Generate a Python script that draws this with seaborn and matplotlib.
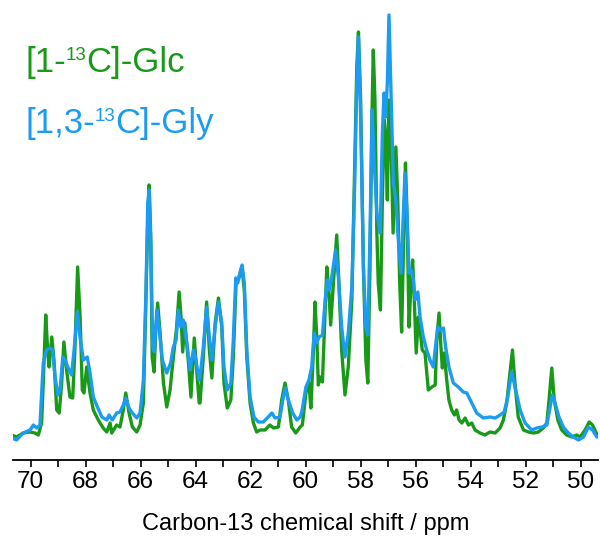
import numpy as np
import pandas as pd
import matplotlib
matplotlib.use("Agg")
import matplotlib.pyplot as plt
from matplotlib.ticker import MultipleLocator
import seaborn as sns

# Spectra: chemical shift (ppm) and intensity (a.u.)
glc_ppm = [70.69, 70.51, 70.27, 70.02, 69.84, 69.72, 69.60, 69.54, 69.45, 69.38, 69.33, 69.23, 69.15, 69.05,
           68.96, 68.87, 68.79, 68.69, 68.57, 68.47, 68.39, 68.29, 68.20, 68.12, 68.06, 67.96, 67.84, 67.72,
           67.54, 67.36, 67.23, 67.11, 67.05, 66.87, 66.75, 66.63, 66.54, 66.42, 66.30, 66.14, 66.02, 65.90,
           65.81, 65.74, 65.69, 65.63, 65.58, 65.51, 65.45, 65.38, 65.30, 65.17, 65.05, 64.93, 64.81, 64.69,
           64.60, 64.53, 64.47, 64.39, 64.26, 64.17, 64.05, 63.96, 63.87, 63.84, 63.72, 63.60, 63.50, 63.41,
           63.29, 63.17, 63.05, 62.97, 62.85, 62.72, 62.63, 62.53, 62.45, 62.32, 62.23, 62.14, 62.02, 61.90,
           61.78, 61.66, 61.48, 61.30, 61.17, 60.99, 60.87, 60.75, 60.63, 60.51, 60.36, 60.20, 60.12, 59.99,
           59.88, 59.81, 59.72, 59.66, 59.59, 59.54, 59.47, 59.39, 59.32, 59.23, 59.15, 59.09, 58.99, 58.87,
           58.79, 58.69, 58.57, 58.45, 58.32, 58.23, 58.14, 58.08, 58.00, 57.90, 57.81, 57.74, 57.66, 57.60,
           57.54, 57.48, 57.41, 57.36, 57.28, 57.21, 57.14, 57.08, 57.03, 56.97, 56.89, 56.82, 56.72, 56.65,
           56.58, 56.51, 56.43, 56.37, 56.31, 56.24, 56.17, 56.11, 56.05, 55.98, 55.90, 55.84, 55.76, 55.66,
           55.54, 55.41, 55.29, 55.23, 55.15, 55.08, 55.03, 54.96, 54.87, 54.79, 54.69, 54.59, 54.51, 54.42,
           54.32, 54.20, 54.08, 53.96, 53.84, 53.66, 53.48, 53.30, 53.11, 52.93, 52.81, 52.69, 52.57, 52.48,
           52.39, 52.27, 52.08, 51.90, 51.72, 51.54, 51.36, 51.23, 51.15, 51.05, 50.96, 50.83, 50.69, 50.51,
           50.32, 50.14, 50.02, 49.84, 49.69, 49.57, 49.45, 49.36]
glc_int = [25, 23, 27, 28, 27, 25, 37, 77, 145, 110, 93, 123, 100, 50,
           47, 77, 118, 90, 63, 62, 110, 193, 143, 70, 67, 93, 67, 50,
           40, 32, 28, 37, 27, 35, 33, 50, 67, 47, 33, 28, 35, 57,
           157, 240, 275, 223, 103, 88, 130, 157, 130, 77, 53, 70, 103, 133,
           168, 143, 108, 137, 97, 63, 122, 90, 57, 57, 103, 158, 110, 82,
           137, 162, 133, 77, 52, 60, 103, 177, 180, 193, 170, 103, 57, 37,
           28, 30, 30, 35, 32, 33, 60, 77, 60, 33, 27, 33, 35, 67,
           77, 52, 107, 158, 120, 75, 83, 78, 127, 193, 167, 135, 177, 225,
           177, 110, 65, 93, 160, 277, 393, 428, 360, 193, 100, 77, 193, 327,
           410, 360, 227, 177, 150, 260, 340, 320, 260, 360, 310, 227, 313, 260,
           177, 128, 227, 297, 243, 133, 177, 200, 160, 107, 143, 130, 110, 107,
           70, 73, 75, 120, 147, 113, 92, 107, 80, 60, 50, 45, 50, 40,
           37, 42, 35, 37, 30, 27, 25, 28, 27, 32, 40, 57, 87, 110,
           77, 43, 30, 28, 27, 28, 32, 37, 60, 92, 60, 40, 30, 25,
           23, 25, 23, 30, 38, 35, 28, 23]

gly_ppm = [70.69, 70.51, 70.27, 70.02, 69.90, 69.78, 69.66, 69.54, 69.42, 69.30, 69.20, 69.11, 69.01, 68.93,
           68.83, 68.75, 68.63, 68.51, 68.42, 68.30, 68.20, 68.08, 67.94, 67.84, 67.72, 67.57, 67.41, 67.23,
           67.15, 67.03, 66.87, 66.75, 66.63, 66.54, 66.42, 66.30, 66.14, 66.02, 65.90, 65.81, 65.74, 65.69,
           65.63, 65.56, 65.50, 65.41, 65.33, 65.21, 65.05, 64.91, 64.81, 64.71, 64.63, 64.54, 64.45, 64.32,
           64.20, 64.08, 63.99, 63.87, 63.84, 63.72, 63.60, 63.50, 63.41, 63.29, 63.17, 63.05, 62.97, 62.85,
           62.72, 62.63, 62.54, 62.47, 62.39, 62.31, 62.23, 62.14, 62.02, 61.88, 61.72, 61.54, 61.36, 61.23,
           61.11, 60.93, 60.83, 60.74, 60.63, 60.47, 60.32, 60.20, 60.14, 59.99, 59.88, 59.78, 59.69, 59.60,
           59.51, 59.39, 59.29, 59.21, 59.14, 59.05, 58.91, 58.81, 58.69, 58.57, 58.45, 58.32, 58.23, 58.14,
           58.08, 58.00, 57.90, 57.81, 57.74, 57.66, 57.58, 57.50, 57.41, 57.29, 57.21, 57.15, 57.09, 57.03,
           56.97, 56.89, 56.81, 56.72, 56.63, 56.53, 56.45, 56.39, 56.31, 56.24, 56.17, 56.08, 56.02, 55.92,
           55.84, 55.72, 55.60, 55.48, 55.36, 55.20, 55.11, 54.99, 54.91, 54.79, 54.63, 54.45, 54.27, 54.14,
           53.96, 53.78, 53.54, 53.30, 53.11, 52.93, 52.78, 52.65, 52.51, 52.39, 52.20, 52.02, 51.78, 51.60,
           51.41, 51.23, 51.11, 51.03, 50.93, 50.79, 50.63, 50.45, 50.27, 50.08, 49.90, 49.72, 49.57, 49.41]
gly_int = [22, 20, 27, 30, 35, 32, 35, 97, 110, 112, 110, 83, 65, 70,
           103, 100, 92, 85, 110, 148, 122, 100, 103, 87, 63, 53, 43, 40,
           45, 40, 47, 48, 55, 62, 52, 47, 42, 47, 80, 163, 257, 270,
           213, 113, 108, 150, 133, 100, 87, 97, 113, 120, 150, 133, 140, 117,
           90, 110, 100, 80, 83, 113, 153, 123, 100, 133, 158, 137, 93, 70,
           77, 120, 182, 177, 187, 195, 177, 110, 63, 43, 38, 38, 43, 47,
           42, 43, 60, 72, 60, 47, 40, 43, 48, 73, 80, 93, 127, 117,
           123, 125, 160, 180, 170, 183, 210, 183, 133, 103, 127, 173, 260, 377,
           423, 343, 193, 133, 125, 227, 350, 293, 247, 227, 327, 367, 343, 377,
           445, 360, 277, 260, 220, 187, 243, 287, 243, 187, 190, 180, 160, 168,
           143, 123, 110, 100, 93, 133, 130, 132, 113, 93, 77, 73, 68, 67,
           57, 47, 42, 43, 42, 45, 48, 63, 88, 73, 50, 37, 30, 32,
           33, 35, 53, 65, 57, 43, 33, 27, 23, 20, 23, 33, 30, 23]

# legend labels split round the superscript mass number
glc_label = ("[1-", "13", "C]-Glc")
gly_label = ("[1,3-", "13", "C]-Gly")
green = "#189a18"
blue = "#1c9cf0"

sns.set_style("white")
plt.rcParams["font.family"] = ["Liberation Sans", "DejaVu Sans"]

fig = plt.figure(figsize=(6, 5.38), dpi=100)
ax = fig.add_axes([13 / 600, 78 / 538, 585 / 600, 460 / 538])

glc = pd.DataFrame({"ppm": glc_ppm, "intensity": glc_int})
gly = pd.DataFrame({"ppm": gly_ppm, "intensity": gly_int})
sns.lineplot(data=glc, x="ppm", y="intensity", color=green, lw=2.4, ax=ax, estimator=None)
sns.lineplot(data=gly, x="ppm", y="intensity", color=blue, lw=2.4, ax=ax, estimator=None)

ax.set_xlim(70.64, 49.37)
ax.set_ylim(0, 460)
for s in ["top", "left", "right"]:
    ax.spines[s].set_visible(False)
ax.spines["bottom"].set_linewidth(1.3)
ax.spines["bottom"].set_color("black")
ax.set_yticks([])
ax.set_ylabel("")
ax.xaxis.set_major_locator(MultipleLocator(2))
ax.xaxis.set_minor_locator(MultipleLocator(1))
ax.tick_params(axis="x", which="both", direction="out", length=5, width=1.2,
               color="black", bottom=True, pad=3, labelsize=17.5, labelcolor="black")
ax.set_xticklabels([f"{t:g}" for t in ax.get_xticks()])
ax.set_xlabel("Carbon-13 chemical shift / ppm", fontsize=17, labelpad=14, color="black")


def sup_label(x, y, parts, color, size=25):
    # draw "before", small raised "sup", then "after", side by side
    r = fig.canvas.get_renderer()
    fw = fig.bbox.width
    t = fig.text(x, y, parts[0], color=color, fontsize=size, va="baseline")
    x = t.get_window_extent(r).x1 / fw
    t = fig.text(x, y + 12 / 538, parts[1], color=color, fontsize=size * 0.54, va="baseline")
    x = t.get_window_extent(r).x1 / fw
    fig.text(x, y, parts[2], color=color, fontsize=size, va="baseline")


sup_label(25 / 600, 1 - 72 / 538, glc_label, green)
sup_label(25 / 600, 1 - 133 / 538, gly_label, blue)

fig.savefig("out.png", dpi=100)
